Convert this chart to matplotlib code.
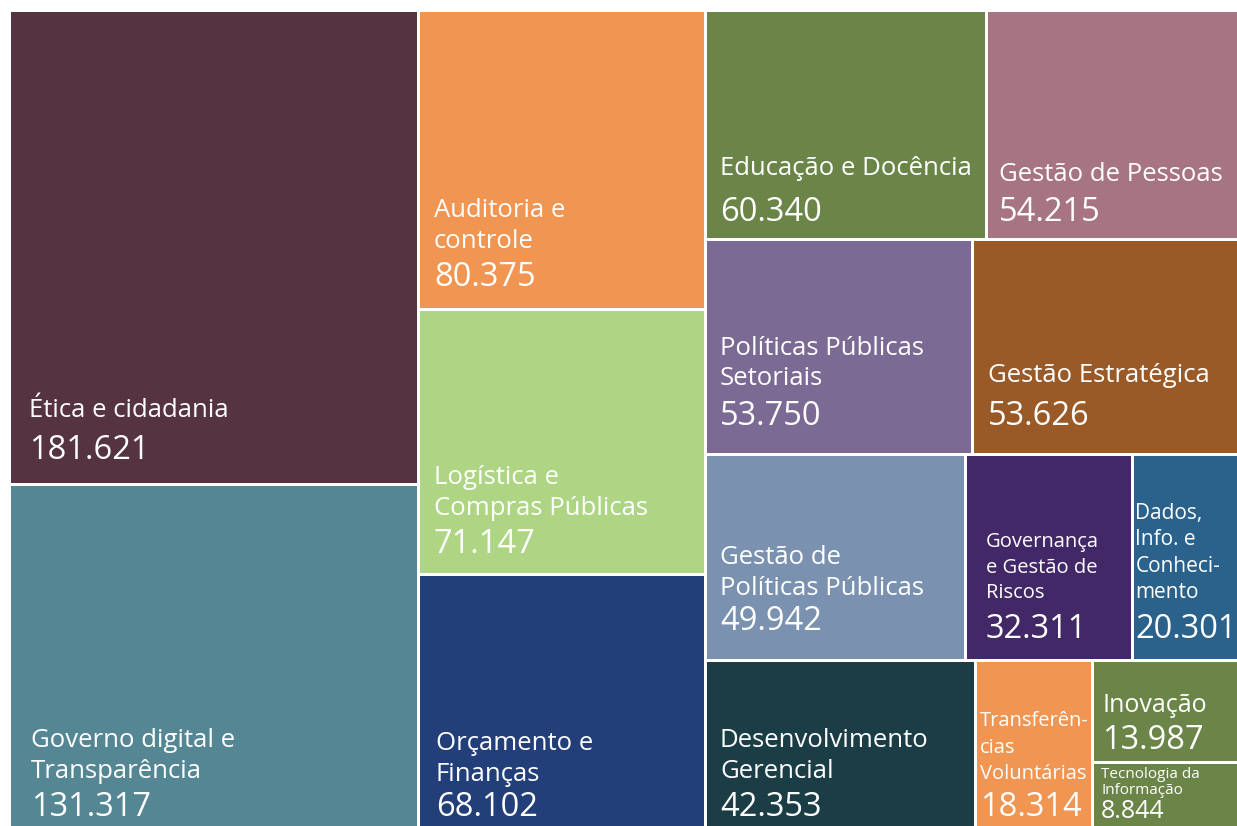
import matplotlib.pyplot as plt
from matplotlib.patches import Rectangle

plt.rcParams['font.family'] = ['Open Sans', 'DejaVu Sans']

# data
labels = ['Ética e cidadania', 'Governo digital e\nTransparência', 'Auditoria e\ncontrole',
          'Logística e\nCompras Públicas', 'Orçamento e\nFinanças', 'Educação e Docência',
          'Gestão de Pessoas', 'Políticas Públicas\nSetoriais', 'Gestão Estratégica',
          'Gestão de\nPolíticas Públicas', 'Governança\ne Gestão de\nRiscos',
          'Dados,\nInfo. e\nConheci-\nmento', 'Desenvolvimento\nGerencial',
          'Transferên-\ncias\nVoluntárias', 'Inovação', 'Tecnologia da\nInformação']
values = [181621, 131317, 80375, 71147, 68102, 60340, 54215, 53750, 53626,
          49942, 32311, 20301, 42353, 18314, 13987, 8844]
colors = ['#553341', '#548793', '#F09552', '#AED584', '#223F7A', '#6B8549',
          '#A67482', '#7B6A93', '#9A5A28', '#7A91B0', '#432868', '#2B628C',
          '#1B3D45', '#F09552', '#6B8549', '#6B8549']

# nesting of the tiles: 'h' = side by side, 'v' = stacked
tree = ('h', [('v', [0, 1]), ('v', [2, 3, 4]),
              ('v', [('h', [5, 6]), ('h', [7, 8]), ('h', [9, 10, 11]),
                     ('h', [12, 13, ('v', [14, 15])])])])

# text per tile: label size, value size, pad x, pad bottom, gap value->label, line spacing
style = {
    0: (18.5, 23.5, 18, 24, 36, 1.3),
    1: (18.5, 23.5, 20, 10, 32, 1.3),
    2: (18.5, 23.5, 14, 22, 32, 1.3),
    3: (18.5, 23.5, 14, 20, 32, 1.3),
    4: (18.5, 23.5, 16, 10, 29, 1.3),
    5: (18.5, 23.5, 13, 17, 40, 1.3),
    6: (18.5, 23.5, 11, 17, 34, 1.3),
    7: (18.5, 23.5, 13, 28, 34, 1.3),
    8: (18.5, 23.5, 14, 28, 37, 1.3),
    9: (18.5, 23.5, 13, 29, 29, 1.3),
    10: (14.5, 23.5, 19, 21, 35, 1.35),
    11: (15, 23.5, 1, 21, 35, 1.33),
    12: (18.5, 23.5, 13, 10, 32, 1.3),
    13: (14.5, 23.5, 3, 10, 32, 1.42),
    14: (18, 23.5, 8, 12, 31, 1.3),
    15: (11, 18, 7, 8, 20, 1.1),
}


def total(node):
    if isinstance(node, int):
        return values[node]
    return sum(total(c) for c in node[1])


def layout(node, x, y, w, h, out):
    if isinstance(node, int):
        out[node] = (x, y, w, h)
        return
    d, kids = node
    s = total(node)
    for k in kids:
        f = total(k) / s
        if d == 'h':
            layout(k, x, y, w * f, h, out)
            x += w * f
        else:
            layout(k, x, y, w, h * f, out)
            y += h * f


W, H = 1229, 817
fig = plt.figure(figsize=(12.37, 8.26), dpi=100)
ax = fig.add_axes([9.5 / 1237, -1.5 / 826, W / 1237, H / 826])
ax.set_xlim(0, W)
ax.set_ylim(H, 0)
ax.axis('off')

rects = {}
layout(tree, 0, 0, W, H, rects)
g = 1.5
for i, (x, y, w, h) in rects.items():
    ax.add_patch(Rectangle((x + g, y + g), w - 2 * g, h - 2 * g, color=colors[i], lw=0))
    ls, vs, px, pb, gap, lsp = style[i]
    vb = y + h - g - pb
    ax.text(x + g + px, vb, f'{values[i]:,}'.replace(',', '.'), color='white',
            fontsize=vs, va='baseline', ha='left')
    ax.text(x + g + px, vb - gap, labels[i], color='white', fontsize=ls,
            va='bottom', ha='left', linespacing=lsp)

fig.savefig('out.png', dpi=100)
